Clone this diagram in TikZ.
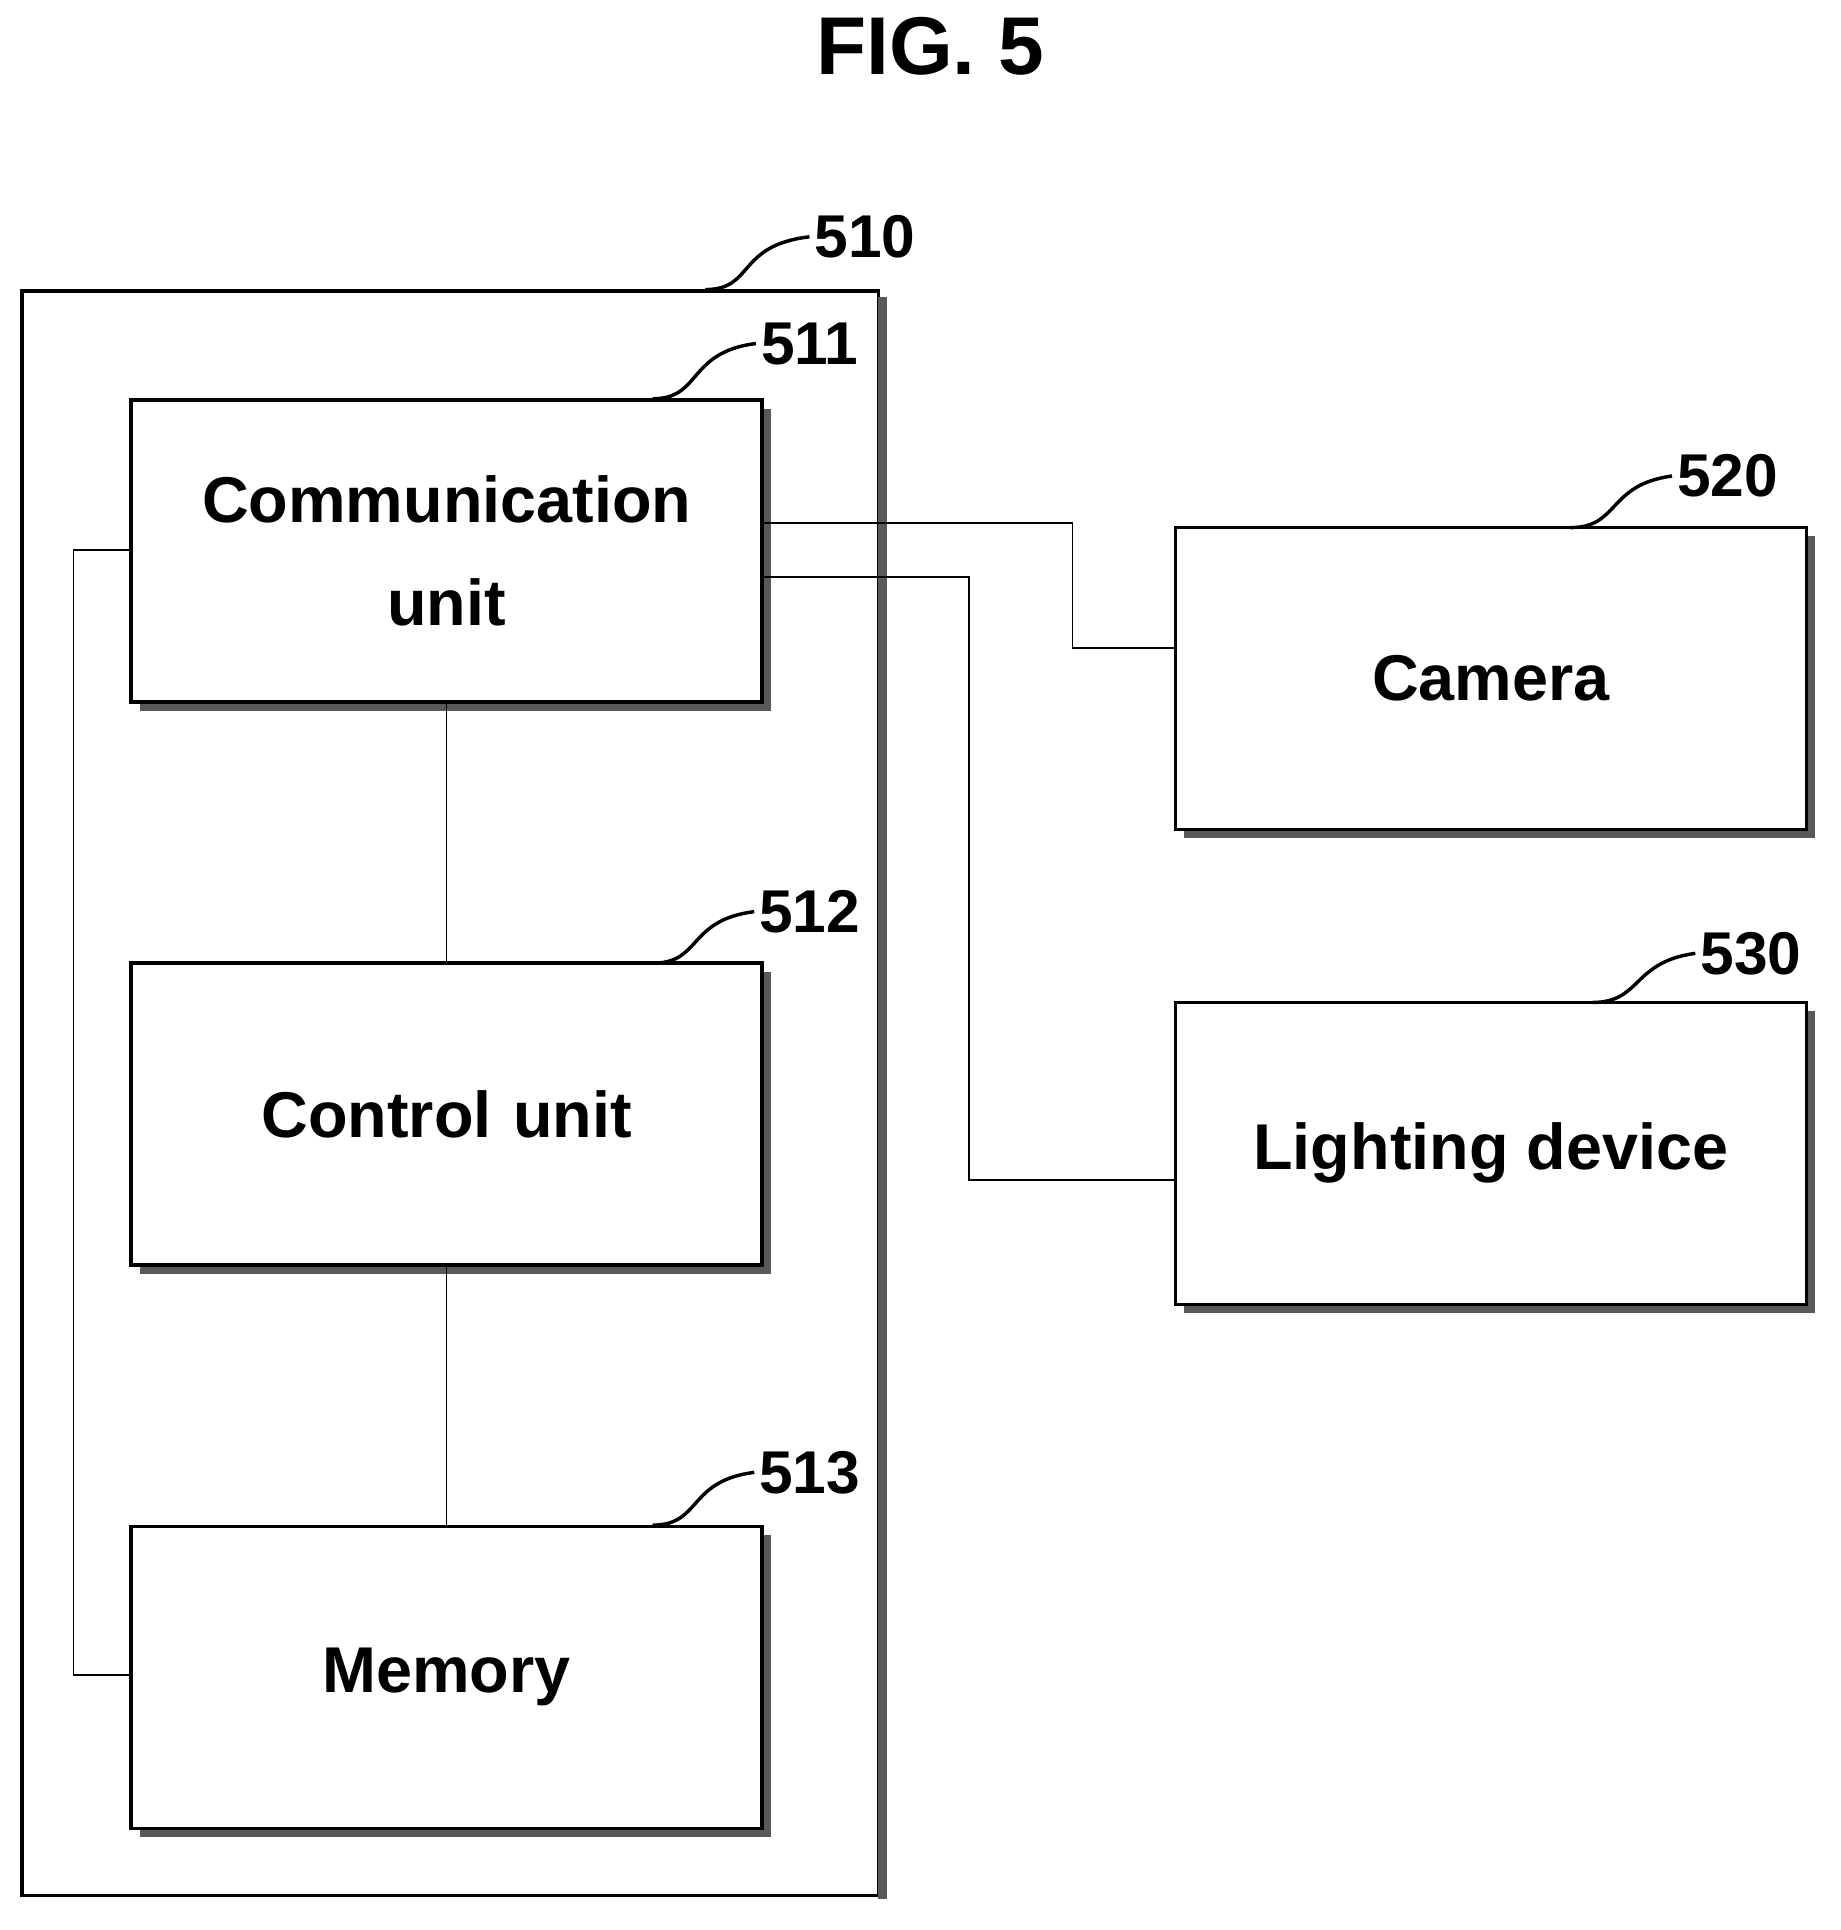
\documentclass[tikz,border=0pt]{standalone}
\usepackage{fontspec}
\setmainfont{Liberation Sans}
\usetikzlibrary{positioning,shadows}
\tikzset{
  blk/.style={draw, thick, fill=white, minimum width=5.14cm, minimum height=2.46cm,
    align=center, font=\fontsize{15}{24}\selectfont\bfseries,
    drop shadow={shadow xshift=2pt, shadow yshift=-2pt, fill=gray!70!black, opacity=1}},
  num/.style={font=\fontsize{14}{16}\selectfont\bfseries, inner sep=1pt},
  lead/.style={thick},
  wire/.style={thin}
}
\begin{document}
\begin{tikzpicture}[x=0.01cm,y=-0.01cm]
  \useasboundingbox (0,0) rectangle (1500,1573);
  \node[font=\fontsize{19}{24}\selectfont\bfseries] (title) at (758,38) {FIG. 5};
  % outer device
  \draw[thick] (18,237) rectangle (716,1545);
  \draw[line width=2pt, gray!70!black] (719,242) -- (719,1548);
  % blocks
  \node[blk] (comm) at (364,449) {Communication\\unit};
  \node[blk] (ctrl) at (364,908) {Control\,\,unit};
  \node[blk] (mem) at (364,1367) {Memory};
  \node[blk] (cam) at (1215,553) {Camera};
  \node[blk] (light) at (1215,940) {Lighting device};
  % reference numerals
  \node[num] (n510) at (705,193) {510};
  \node[num] (n511) at (660,280) {511};
  \node[num] (n512) at (660,743) {512};
  \node[num] (n513) at (660,1200) {513};
  \node[num] (n520) at (1408,388) {520};
  \node[num] (n530) at (1427,777) {530};
  \draw[lead] (575,236) .. controls (615,236) and (600,200) .. (n510.west);
  \draw[lead] (532,325) .. controls (572,325) and (560,287) .. (n511.west);
  \draw[lead] (532,785) .. controls (572,785) and (560,750) .. (n512.west);
  \draw[lead] (532,1243) .. controls (572,1243) and (560,1207) .. (n513.west);
  \draw[lead] (1280,430) .. controls (1320,430) and (1310,395) .. (n520.west);
  \draw[lead] (1298,817) .. controls (1338,817) and (1330,784) .. (n530.west);
  % connections
  \draw[wire] (comm.south) -- (ctrl.north);
  \draw[wire] (ctrl.south) -- (mem.north);
  \draw[wire] (comm.west |- 0,448) -- (60,448) -- (60,1365) -- (mem.west |- 0,1365);
  \draw[wire] (comm.east |- 0,426) -- (874,426) -- (874,528) -- (cam.west |- 0,528);
  \draw[wire] (comm.east |- 0,470) -- (790,470) -- (790,962) -- (light.west |- 0,962);
\end{tikzpicture}
\end{document}
